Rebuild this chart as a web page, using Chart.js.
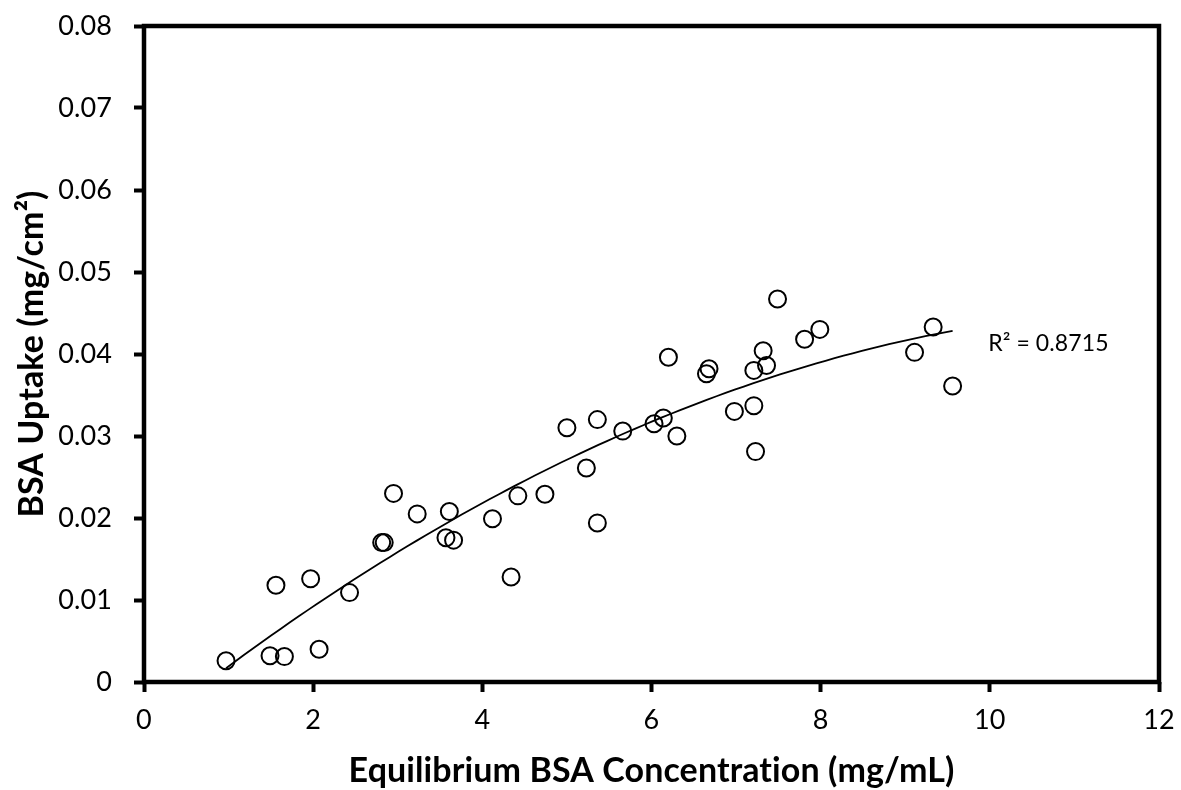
<!DOCTYPE html>
<html>
<head>
<meta charset="utf-8">
<script src="https://cdn.jsdelivr.net/npm/chart.js@4.4.1/dist/chart.umd.min.js"></script>
<style>
  body { margin: 0; background: #fff; }
  canvas { display: block; }
</style>
</head>
<body>
<canvas id="uptakeChart" width="1181" height="790"></canvas>
<script>
// equilibrium BSA concentration (mg/mL) and uptake (mg/cm2)
var concentration = [
  0.97, 1.49, 1.66, 2.07, 1.56, 1.97, 2.43, 2.81, 2.84, 2.95,
  3.23, 3.61, 3.57, 3.66, 4.12, 4.34, 4.42, 4.74, 5.23, 5.00,
  5.36, 5.36, 5.66, 6.03, 6.14, 6.30, 6.20, 6.65, 6.68, 6.98,
  7.21, 7.23, 7.21, 7.32, 7.36, 7.49, 7.81, 7.99, 9.11, 9.33,
  9.56
];
var uptake = [
  0.0026, 0.0032, 0.0031, 0.0040, 0.0118, 0.0126, 0.0109, 0.0170, 0.0170, 0.0230,
  0.0205, 0.0208, 0.0176, 0.0173, 0.0199, 0.0128, 0.0227, 0.0229, 0.0261, 0.0310,
  0.0320, 0.0194, 0.0306, 0.0315, 0.0322, 0.0300, 0.0396, 0.0376, 0.0382, 0.0330,
  0.0337, 0.0281, 0.0380, 0.0404, 0.0386, 0.0467, 0.0418, 0.0430, 0.0402, 0.0433,
  0.0361
];
var xTickLabels = ["0", "2", "4", "6", "8", "10", "12"];
var yTickLabels = ["0", "0.01", "0.02", "0.03", "0.04", "0.05", "0.06", "0.07", "0.08"];
var rSquaredText = "R\u00b2 = 0.8715";
var xTitle = "Equilibrium BSA Concentration (mg/mL)";
var yTitle = "BSA Uptake (mg/cm\u00b2)";

// 2nd order polynomial trendline (least squares), like the spreadsheet one
function polyFit2(xs, ys) {
  var s = [0, 0, 0, 0, 0], t = [0, 0, 0];
  for (var i = 0; i < xs.length; i++) {
    var p = 1;
    for (var k = 0; k < 5; k++) { s[k] += p; if (k < 3) t[k] += p * ys[i]; p *= xs[i]; }
  }
  var m = [[s[0], s[1], s[2], t[0]], [s[1], s[2], s[3], t[1]], [s[2], s[3], s[4], t[2]]];
  for (var c = 0; c < 3; c++) {
    for (var r = c + 1; r < 3; r++) {
      var f = m[r][c] / m[c][c];
      for (var j = c; j < 4; j++) m[r][j] -= f * m[c][j];
    }
  }
  var a = [0, 0, 0];
  for (var r2 = 2; r2 >= 0; r2--) {
    var v = m[r2][3];
    for (var j2 = r2 + 1; j2 < 3; j2++) v -= m[r2][j2] * a[j2];
    a[r2] = v / m[r2][r2];
  }
  return a;
}

var coef = polyFit2(concentration, uptake);
var xMin = Math.min.apply(null, concentration);
var xMax = Math.max.apply(null, concentration);
var trend = [];
for (var n = 0; n <= 80; n++) {
  var xv = xMin + (xMax - xMin) * n / 80;
  trend.push({ x: xv, y: coef[0] + coef[1] * xv + coef[2] * xv * xv });
}

var points = concentration.map(function (c, i) { return { x: c, y: uptake[i] }; });

var frame = {
  id: "frame",
  beforeDraw: function (chart) {
    // a tiny letter spacing stops Lato's "ti" ligature
    chart.ctx.letterSpacing = "0.1px";
  },
  afterDraw: function (chart) {
    var a = chart.chartArea, ctx = chart.ctx;
    ctx.save();
    ctx.strokeStyle = "#000";
    ctx.lineWidth = 4.5;
    ctx.strokeRect(a.left, a.top, a.right - a.left, a.bottom - a.top);
    ctx.fillStyle = "#000";
    ctx.font = "23px Lato";
    ctx.textBaseline = "middle";
    ctx.fillText(rSquaredText, chart.scales.x.getPixelForValue(9.98), chart.scales.y.getPixelForValue(0.0413));
    ctx.restore();
  }
};

var ctx = document.getElementById("uptakeChart");
var chart = new Chart(ctx, {
  type: "scatter",
  data: {
    datasets: [{
      data: points,
      pointRadius: 8.5,
      pointHoverRadius: 8.5,
      pointBorderWidth: 2,
      pointBorderColor: "#000",
      pointBackgroundColor: "rgba(0,0,0,0)"
    }, {
      type: "line",
      data: trend,
      borderColor: "#000",
      borderWidth: 1.8,
      pointRadius: 0,
      fill: false,
      tension: 0
    }]
  },
  options: {
    responsive: false,
    animation: false,
    layout: { padding: { top: 26, right: 22, left: 0, bottom: 0 } },
    plugins: { legend: { display: false }, tooltip: { enabled: false } },
    scales: {
      x: {
        type: "linear", min: 0, max: 12,
        afterFit: function (s) { s.height = 108; s.paddingLeft = 0; s.paddingRight = 0; },
        ticks: {
          stepSize: 2, color: "#000", padding: 12,
          font: { family: "Lato", size: 27 },
          callback: function (v) { return xTickLabels[Math.round(v / 2)]; }
        },
        grid: { drawOnChartArea: false, tickLength: 10, tickWidth: 4, tickColor: "#000" },
        border: { display: false },
        title: {
          display: true, text: xTitle, color: "#000",
          font: { family: "Lato", size: 34, weight: "bold", lineHeight: 0.8 },
          padding: { top: 0, bottom: 5 }
        }
      },
      y: {
        type: "linear", min: 0, max: 0.08,
        afterFit: function (s) { s.width = 144; s.paddingTop = 0; s.paddingBottom = 0; },
        ticks: {
          stepSize: 0.01, color: "#000", padding: 22,
          font: { family: "Lato", size: 27 },
          callback: function (v) { return yTickLabels[Math.round(v * 100)]; }
        },
        grid: { drawOnChartArea: false, tickLength: 10, tickWidth: 4, tickColor: "#000" },
        border: { display: false },
        title: {
          display: true, text: yTitle, color: "#000",
          font: { family: "Lato", size: 34, weight: "bold", lineHeight: 0.8 },
          padding: { top: 18, bottom: 0 }
        }
      }
    }
  },
  plugins: [frame]
});
</script>
</body>
</html>
